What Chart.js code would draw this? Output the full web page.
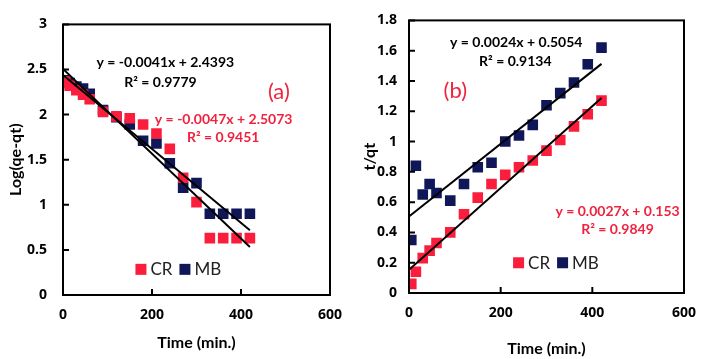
<!DOCTYPE html>
<html lang="en">
<head>
<meta charset="UTF-8">
<title>Kinetics</title>
<script src="https://cdn.jsdelivr.net/npm/chart.js"></script>
<style>
    body { margin: 0; background: #fff; }
    .panel { position: absolute; top: 0; width: 354px; height: 359px; }
    #pa { left: 0; }
    #pb { left: 354px; }
</style>
</head>
<body>
<div class="panel" id="pa"><canvas id="chartA" width="354" height="359"></canvas></div>
<div class="panel" id="pb"><canvas id="chartB" width="354" height="359"></canvas></div>

<script>
    // time points (min.)
    var timeA = [5, 15, 30, 45, 60, 90, 120, 150, 180, 210, 240, 270, 300, 330, 360, 390, 420];
    var timeB = [5, 15, 30, 45, 60, 90, 120, 150, 180, 210, 240, 270, 300, 330, 360, 390, 420];

    // (a) Log(qe-qt)
    var crA = [2.37, 2.32, 2.27, 2.22, 2.17, 2.03, 1.98, 1.96, 1.89, 1.79, 1.62, 1.30, 1.03, 0.63, 0.63, 0.63, 0.63];
    var mbA = [2.38, 2.35, 2.31, 2.29, 2.23, 2.05, 1.97, 1.89, 1.71, 1.68, 1.46, 1.19, 1.24, 0.90, 0.90, 0.90, 0.90];

    // (b) t/qt
    var crB = [0.06, 0.14, 0.23, 0.28, 0.33, 0.40, 0.52, 0.63, 0.72, 0.78, 0.83, 0.875, 0.94, 1.01, 1.10, 1.18, 1.27];
    var mbB = [0.35, 0.84, 0.65, 0.72, 0.66, 0.61, 0.72, 0.83, 0.86, 1.00, 1.04, 1.11, 1.24, 1.32, 1.39, 1.51, 1.62];

    // trend lines, ends at x = 0 and x = 420
    var fitX = [0, 420];
    var fitA_CR = [2.507, 0.533];
    var fitA_MB = [2.439, 0.717];
    var fitB_CR = [0.153, 1.287];
    var fitB_MB = [0.505, 1.513];

    var xTicks = [0, 200, 400, 600];
    var yTicksA = [0, 0.5, 1, 1.5, 2, 2.5, 3];
    var yTicksB = [0, 0.2, 0.4, 0.6, 0.8, 1, 1.2, 1.4, 1.6, 1.8];

    var RED = '#fb1e3c';
    var NAVY = '#0f1758';
    var RED_TXT = '#f0233f';
    var FONT = 'Lato, "Open Sans", sans-serif';
    var TICKFONT = '"Open Sans", Lato, sans-serif';

    function pts(xs, ys) {
        var out = [];
        for (var i = 0; i < xs.length; i++) out.push({ x: xs[i], y: ys[i] });
        return out;
    }

    // box, inward ticks, equations, legend
    var extras = {
        id: 'extras',
        afterDatasetsDraw: function (chart) {
            var ctx = chart.ctx;
            var a = chart.chartArea;
            var sx = chart.scales.x, sy = chart.scales.y;
            var o = chart.options.plugins.extras;
            ctx.save();
            ctx.strokeStyle = '#000';
            ctx.lineWidth = 2;
            ctx.strokeRect(a.left, a.top, a.right - a.left, a.bottom - a.top);
            ctx.beginPath();
            sx.ticks.forEach(function (t) {
                var px = sx.getPixelForValue(t.value);
                ctx.moveTo(px, a.bottom); ctx.lineTo(px, a.bottom - 6);
            });
            sy.ticks.forEach(function (t) {
                var py = sy.getPixelForValue(t.value);
                ctx.moveTo(a.left, py); ctx.lineTo(a.left + 6, py);
            });
            ctx.stroke();

            ctx.textAlign = 'center';
            ctx.textBaseline = 'middle';
            o.texts.forEach(function (t) {
                ctx.fillStyle = t.color;
                ctx.font = t.font;
                ctx.fillText(t.text, sx.getPixelForValue(t.x), sy.getPixelForValue(t.y));
            });

            // legend
            var lx = sx.getPixelForValue(o.legend.x);
            var ly = sy.getPixelForValue(o.legend.y);
            ctx.font = '17px ' + FONT;
            ctx.textAlign = 'left';
            chart.data.datasets.forEach(function (ds) {
                if (!ds.inLegend) return;
                ctx.fillStyle = ds.backgroundColor;
                ctx.fillRect(lx - 5, ly - 5, 11, 11);
                ctx.fillStyle = '#222';
                ctx.fillText(ds.label, lx + 10, ly + 1);
                lx += 10 + ctx.measureText(ds.label).width + 12;
            });
            ctx.restore();
        }
    };

    function makeChart(id, p) {
        return new Chart(document.getElementById(id), {
            type: 'scatter',
            data: {
                datasets: [
                    { label: 'CR', data: pts(p.time, p.cr), backgroundColor: RED, pointStyle: 'rect', pointRadius: 7.5, pointHoverRadius: 7.5, borderWidth: 0, order: 2, inLegend: true },
                    { label: 'MB', data: pts(p.time, p.mb), backgroundColor: NAVY, pointStyle: 'rect', pointRadius: 7.5, pointHoverRadius: 7.5, borderWidth: 0, order: 2, inLegend: true },
                    { label: 'fitCR', data: pts(fitX, p.fitCR), showLine: true, borderColor: '#000', borderWidth: 2, pointRadius: 0, order: 1 },
                    { label: 'fitMB', data: pts(fitX, p.fitMB), showLine: true, borderColor: '#000', borderWidth: 2, pointRadius: 0, order: 1 }
                ]
            },
            options: {
                responsive: false,
                animation: false,
                layout: { padding: { left: 0, right: p.padRight, top: p.padTop, bottom: 0 } },
                plugins: {
                    legend: { display: false },
                    tooltip: { enabled: false },
                    extras: { texts: p.texts, legend: p.legend }
                },
                scales: {
                    x: {
                        type: 'linear', min: 0, max: 600,
                        afterBuildTicks: function (s) { s.ticks = xTicks.map(function (v) { return { value: v }; }); },
                        afterFit: function (s) { s.height = p.xHeight; },
                        grid: { display: false, drawTicks: false },
                        border: { display: false },
                        ticks: { color: '#000', padding: p.xPad, font: { family: TICKFONT, size: 14, weight: 'bold' } },
                        title: { display: true, text: 'Time (min.)', color: '#000', padding: { top: 0, bottom: p.xTitlePad }, font: { family: FONT, size: 16, weight: 'bold' } }
                    },
                    y: {
                        min: 0, max: p.yMax,
                        afterBuildTicks: function (s) { s.ticks = p.yTicks.map(function (v) { return { value: v }; }); },
                        afterFit: function (s) { s.width = p.yWidth; },
                        grid: { display: false, drawTicks: false },
                        border: { display: false },
                        ticks: { color: '#000', padding: p.yPad, font: { family: TICKFONT, size: 14, weight: 'bold' }, callback: function (v) { return String(+v.toFixed(2)); } },
                        title: { display: true, text: p.yTitle, color: '#000', padding: { top: 6, bottom: 0 }, font: { family: FONT, size: 16, weight: 'bold' } }
                    }
                }
            },
            plugins: [extras]
        });
    }

    var bold14 = 'bold 14px ' + FONT;

    makeChart('chartA', {
        time: timeA, cr: crA, mb: mbA, fitCR: fitA_CR, fitMB: fitA_MB,
        yMax: 3, yTicks: yTicksA, yTitle: 'Log(qe-qt)',
        padRight: 19, padTop: 10, xHeight: 64, yWidth: 63, xPad: 12, yPad: 16, xTitlePad: 7,
        legend: { x: 174, y: 0.29 },
        texts: [
            { text: 'y = -0.0041x + 2.4393', x: 230, y: 2.58, color: '#000', font: bold14 },
            { text: 'R² = 0.9779', x: 219, y: 2.36, color: '#000', font: bold14 },
            { text: 'y = -0.0047x + 2.5073', x: 361, y: 1.95, color: RED_TXT, font: bold14 },
            { text: 'R² = 0.9451', x: 360, y: 1.75, color: RED_TXT, font: bold14 },
            { text: '(a)', x: 485, y: 2.25, color: RED_TXT, font: '22px ' + FONT }
        ]
    });

    makeChart('chartB', {
        time: timeB, cr: crB, mb: mbB, fitCR: fitB_CR, fitMB: fitB_MB,
        yMax: 1.8, yTicks: yTicksB, yTitle: 't/qt',
        padRight: 14, padTop: 9, xHeight: 66, yWidth: 55, xPad: 12, yPad: 12, xTitlePad: 1,
        legend: { x: 238, y: 0.203 },
        texts: [
            { text: 'y = 0.0024x + 0.5054', x: 234, y: 1.654, color: '#000', font: bold14 },
            { text: 'R² = 0.9134', x: 232, y: 1.527, color: '#000', font: bold14 },
            { text: 'y = 0.0027x + 0.153', x: 455, y: 0.539, color: RED_TXT, font: bold14 },
            { text: 'R² = 0.9849', x: 455, y: 0.418, color: RED_TXT, font: bold14 },
            { text: '(b)', x: 101, y: 1.337, color: RED_TXT, font: '22px ' + FONT }
        ]
    });
</script>
</body>
</html>
